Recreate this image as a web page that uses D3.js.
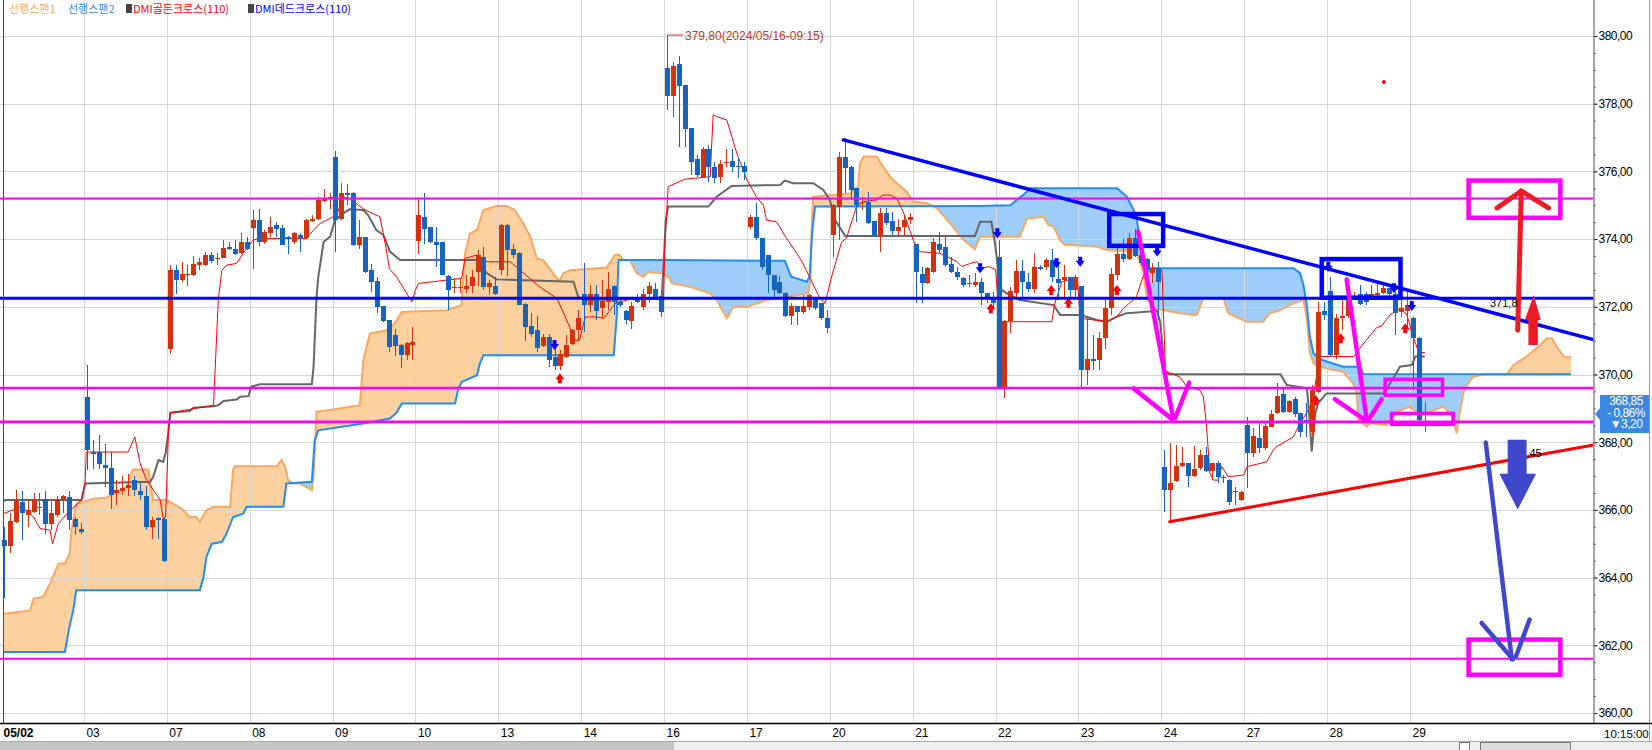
<!DOCTYPE html>
<html>
<head>
<meta charset="utf-8">
<script src="https://cdn.jsdelivr.net/npm/d3@7"></script>
<style>
  body { margin: 0; background: #fff; overflow: hidden; }
  svg { display: block; font-family: "Liberation Sans", Arial, sans-serif; }
</style>
</head>
<body>
<div id="chart"></div>
<script>
// 30 min bars, 14 per session
const dayLabels = ['05/02', '03', '07', '08', '09', '10', '13', '14', '16', '17', '20', '21', '22', '23', '24', '27', '28', '29'];

// [open, high, low, close]
const ohlc = [
  // 05/02
  [365.1,365.5,363.4,364.93],[364.93,365.9,364.73,365.68],[365.65,366.6,365.6,366.27],[366.24,366.55,365.1,365.9],
  [365.86,366.3,365.5,365.99],[365.94,366.5,365.9,366.31],[366.1,366.5,365.85,366.1],[366.31,366.55,365.3,365.57],
  [365.57,366.3,365.4,365.92],[365.86,366.4,365.8,366.31],[366.3,366.45,365.9,366.4],[366.38,366.55,365.4,365.7],
  [365.74,365.8,365.25,365.5],[365.45,365.6,365.3,365.35],
  // 03
  [369.34,370.28,367.17,367.76],[367.7,368.06,367.2,367.66],[367.71,368.2,367.2,367.37],[367.32,367.96,366.68,367.25],
  [367.25,367.7,366.04,366.45],[366.5,366.88,366.13,366.6],[366.56,367.0,366.45,366.66],[366.66,367.05,366.4,366.75],
  [366.88,367.0,366.4,366.6],[366.56,366.8,366.3,366.45],[366.4,366.7,365.4,365.5],[365.5,365.8,365.15,365.7],
  [365.77,365.8,365.15,365.7],[365.74,365.8,364.45,364.49],
  // 07
  [370.75,373.23,370.6,373.1],[373.1,373.23,372.37,372.8],[372.8,373.33,372.74,372.97],[372.95,373.23,372.6,372.97],
  [372.94,373.5,372.9,373.25],[373.23,373.43,373.1,373.32],[373.23,373.63,373.2,373.52],[373.53,373.63,373.3,373.35],
  [373.42,373.6,373.23,373.45],[373.45,373.97,373.43,373.75],[373.77,373.92,373.67,373.7],[373.72,373.97,373.53,373.57],
  [373.6,374.17,373.57,373.9],[373.9,374.05,373.67,373.7],
  // 08
  [374.33,374.86,373.13,374.56],[374.56,374.9,373.8,373.9],[373.9,374.27,373.87,374.2],[374.19,374.64,374.07,374.35],
  [374.41,374.5,374.07,374.31],[374.33,374.41,373.82,373.84],[374.05,374.1,373.55,374.0],[373.9,374.22,373.87,374.17],
  [374.12,374.17,373.62,374.02],[374.02,374.6,374.0,374.56],[374.54,374.7,374.5,374.6],[374.58,375.25,374.56,375.15],
  [375.13,375.47,375.1,375.17],[375.17,375.37,374.9,375.25],
  // 09
  [376.43,376.61,373.63,374.56],[374.58,375.65,374.56,375.37],[375.37,375.63,375.0,375.3],[375.37,375.4,373.8,373.82],
  [373.82,374.56,373.7,374.05],[374.05,374.07,373.0,373.03],[373.1,373.25,372.44,372.74],[372.76,372.88,371.82,372.0],
  [372.02,372.03,371.55,371.59],[371.6,371.62,370.67,370.82],[371.16,371.33,370.54,370.84],[370.87,370.9,370.18,370.57],
  [370.57,370.95,370.42,370.92],[370.87,371.41,370.42,370.97],
  // 10
  [373.95,375.2,373.56,374.71],[374.64,375.37,373.87,374.3],[374.35,374.36,373.88,373.9],[373.9,374.35,373.18,373.82],
  [373.91,373.92,372.93,372.94],[372.92,372.93,371.9,372.5],[372.55,372.84,372.4,372.58],[372.55,372.84,372.4,372.58],
  [372.54,372.94,372.4,372.62],[372.6,373.08,372.4,372.89],[373.03,373.67,372.6,373.53],[373.48,373.77,372.5,372.59],
  [372.59,372.79,372.35,372.69],[372.61,372.89,372.35,372.39],
  // 13
  [373.08,374.45,372.94,374.41],[374.41,374.45,372.9,373.67],[373.72,373.87,373.43,373.53],[373.58,373.63,372.04,372.05],
  [372.08,372.1,371.0,371.41],[371.43,371.82,371.11,371.21],[371.31,371.72,370.67,370.77],[370.84,371.2,370.82,371.11],
  [371.11,371.2,370.23,370.42],[370.52,370.82,370.13,370.25],[370.25,370.72,370.13,370.6],[370.52,371.16,370.5,370.87],
  [370.9,371.33,370.87,371.31],[371.31,371.9,371.0,371.66],
  // 14
  [372.39,373.3,371.26,372.05],[372.05,372.64,371.85,372.37],[372.37,372.64,371.6,371.88],[371.95,372.79,371.66,372.18],
  [372.15,373.03,371.9,372.54],[372.61,372.64,371.75,372.15],[372.15,372.3,372.0,372.05],[371.87,371.9,371.5,371.62],
  [371.59,372.15,371.33,372.02],[372.3,372.39,372.1,372.15],[372.0,372.54,371.9,372.39],[372.37,372.74,372.1,372.61],
  [372.53,372.69,372.2,372.3],[372.32,372.4,371.7,371.85],
  // 16
  [379.04,379.8,377.81,378.23],[378.23,379.24,377.62,379.11],[379.17,379.41,376.73,378.52],[378.55,378.56,376.73,377.24],
  [377.27,377.28,375.9,376.29],[376.36,376.48,375.84,375.9],[375.84,376.73,375.84,376.65],[376.65,376.78,375.7,376.14],
  [376.14,376.29,375.65,375.8],[375.84,376.34,375.67,376.22],[376.24,376.65,376.14,376.27],[376.31,376.65,375.99,376.14],
  [376.17,376.43,375.8,376.13],[376.16,376.29,375.75,375.99],
  // 17
  [374.35,374.7,374.3,374.64],[374.64,375.06,373.97,374.02],[374.02,374.03,373.09,373.19],[373.53,373.54,372.4,372.94],
  [372.94,372.95,372.28,372.5],[372.74,372.9,372.38,372.4],[372.42,372.44,371.71,371.73],[371.73,372.1,371.46,372.02],
  [372.02,372.03,371.46,371.86],[371.86,372.35,371.8,372.02],[372.0,372.38,371.9,372.35],[372.25,372.3,371.9,371.96],
  [372.1,372.11,371.6,371.66],[371.66,371.9,371.24,371.36],
  // 20
  [374.12,375.03,373.48,375.01],[374.96,376.58,373.97,376.43],[376.43,376.98,375.35,376.09],[376.14,376.15,375.15,375.45],
  [375.5,375.51,374.51,375.01],[375.06,375.25,374.86,375.1],[375.1,375.4,374.45,374.47],[374.52,374.53,374.07,374.12],
  [374.12,374.91,373.63,374.78],[374.78,374.91,374.42,374.47],[374.52,374.81,374.12,374.25],[374.25,374.58,374.12,374.35],
  [374.35,374.71,374.12,374.56],[374.56,374.76,374.46,374.66],
  // 21
  [373.86,373.87,372.1,373.04],[372.97,373.19,372.1,372.69],[372.69,373.19,372.68,373.14],[373.04,374.02,372.99,373.92],
  [373.86,374.22,373.58,373.68],[373.76,374.07,373.18,373.23],[373.26,373.46,372.99,373.04],[373.04,373.19,372.79,372.87],
  [372.84,372.89,372.59,372.64],[372.67,372.94,372.59,372.7],[372.64,372.99,372.59,372.74],[372.74,372.84,372.05,372.4],
  [372.4,372.41,372.1,372.25],[372.3,372.45,371.95,372.1],
  // 22
  [373.48,373.97,369.6,369.64],[369.64,371.61,369.3,371.58],[371.58,372.59,371.24,372.47],[372.4,373.38,372.2,373.06],
  [373.06,373.38,372.25,372.74],[372.74,372.99,372.45,372.52],[372.52,373.58,372.4,373.17],[373.17,373.24,373.08,373.11],
  [373.17,373.43,373.08,373.38],[373.38,373.7,372.74,372.87],[372.81,373.33,372.2,372.71],[372.79,373.23,372.2,372.87],
  [372.87,372.88,372.25,372.5],[372.5,372.94,372.3,372.87],
  // 23
  [372.61,372.62,369.64,370.13],[370.13,371.66,369.69,370.45],[370.45,371.17,370.13,370.41],[370.43,371.27,370.13,371.09],
  [371.07,372.2,370.74,371.95],[371.95,373.14,371.76,372.97],[372.94,373.78,372.79,373.56],[373.56,373.99,373.33,373.4],
  [373.4,374.19,373.38,374.02],[374.02,374.29,373.48,373.5],[373.53,373.82,373.24,373.3],[373.4,373.43,372.84,373.09],
  [373.01,373.3,372.69,373.11],[373.14,373.33,371.61,372.74],
  // 24
  [367.28,367.77,365.95,366.59],[366.59,367.97,365.6,366.8],[366.86,367.92,366.83,367.3],[367.3,367.87,367.28,367.38],
  [367.38,367.39,366.69,367.0],[367.0,367.89,366.98,367.2],[367.23,367.77,367.18,367.62],[367.62,367.87,367.13,367.16],
  [367.16,367.39,366.88,367.38],[367.38,367.43,366.78,366.96],[366.98,367.03,366.78,366.93],[366.88,366.9,366.14,366.24],
  [366.52,366.69,366.14,366.55],[366.29,366.55,366.27,366.54],
  // 27
  [368.51,368.75,366.64,367.67],[367.67,368.41,367.57,368.18],[368.11,368.56,367.67,367.82],[367.82,368.61,367.77,368.48],
  [368.46,368.95,368.44,368.83],[368.85,369.76,368.83,369.37],[369.42,369.59,368.87,368.9],[368.9,369.25,368.85,369.23],
  [369.27,369.35,368.75,368.83],[368.85,368.86,368.14,368.31],[368.65,369.15,368.14,368.6],[368.31,369.7,368.2,369.54],
  [369.49,372.15,369.45,371.85],[371.88,372.15,371.6,371.76],
  // 28
  [372.48,372.89,370.53,370.58],[370.58,371.8,370.45,371.66],[371.66,372.2,371.31,371.73],[371.73,372.21,371.66,372.2],
  [372.25,372.45,372.2,372.32],[372.38,372.64,372.05,372.08],[372.38,372.45,372.05,372.15],[372.32,372.64,372.25,372.38],
  [372.35,372.69,372.3,372.4],[372.4,372.71,372.38,372.55],[372.55,372.56,372.2,372.38],[372.38,372.45,371.17,371.81],
  [371.86,372.35,371.71,371.95],[371.88,372.48,371.36,372.05],
  // 29
  [371.66,371.71,369.54,371.07],[371.07,371.1,368.6,368.66],[368.8,369.2,368.3,368.85]
];

// indicator lines, read as [bar, value] vertices
const tenkan = [[0,365.9],[3,366.09],[5,365.79],[6.1,365.45],[7.8,365.4],[8.2,365.0],[9.2,365.6],[11.2,365.99],[13.1,366.29],
  [13.7,366.78],[13.9,367.71],[21,367.71],[22.1,368.16],[23,367.37],[24.1,366.88],[26.4,366.29],[26.9,365.74],[27.3,365.79],
  [27.8,368.35],[28.1,368.87],[32,368.99],[35.4,369.09],[36.2,372.2],[36.8,373.08],[37.6,373.23],[39.3,373.28],[40.4,373.58],
  [42.1,373.97],[43.2,374.02],[51.1,374.02],[52.3,374.27],[53.4,374.46],[55.4,374.64],[56.2,374.71],[57.3,375.25],[58.4,375.2],
  [60.7,374.89],[63.5,374.66],[64.4,373.87],[65.1,373.13],[66.3,372.89],[68.9,372.15],[69.5,372.49],[70,372.69],[77.3,372.84],
  [77.9,373.43],[79.9,373.53],[81.6,373.33],[85.5,373.33],[87.2,373.08],[90.5,372.59],[93.4,372.25],[95.3,371.51],[96.5,371.01],
  [97.2,371.01],[98.2,371.7],[100.1,371.7],[101.3,371.66],[103.4,372.12],[105.7,372.22],[111.4,372.22],[111.7,374.07],
  [112.2,375.55],[115,375.77],[119.3,375.84],[119.5,376.63],[119.8,377.67],[120.4,377.62],[122.1,377.52],[123.8,376.53],
  [125.5,375.75],[127.1,375.25],[128.3,375.0],[128.8,374.56],[130.5,374.51],[132.2,374.02],[134.5,373.43],[136.2,372.84],
  [137.8,372.25],[138.7,372.1],[139.8,372.89],[141.5,373.92],[142.3,374.02],[144,374.96],[145.2,375.11],[147.4,375.16],
  [148.5,375.3],[149.7,375.3],[150.8,375.2],[151.9,374.81],[153.6,373.97],[154.7,373.63],[158.1,373.58],[159.3,373.48],
  [161,373.33],[161.8,373.19],[163.2,373.28],[164.3,373.33],[165.4,373.14],[166.3,373.19],[167.5,373.1],[168.2,371.56],
  [177,371.56],[177.5,372.1],[178.7,372.74],[181.3,372.87],[181.8,371.66],[186.5,371.56],[188,371.71],[189.1,371.95],
  [191.3,372.3],[192.5,372.94],[194.2,373.14],[195.6,373.09],[196.2,370.1],[198.6,369.93],[199.8,369.64],[202,369.54],
  [202.6,369.34],[203.1,368.56],[203.7,367.08],[204.3,366.88],[205.1,366.88],[205.7,367.28],[206.8,366.98],[209.4,367.03],
  [210,367.28],[213.3,367.42],[214.4,367.77],[215,367.87],[217.8,368.16],[218.9,368.56],[220,368.85],[221,369.2],
  [222.3,370.53],[228,370.53],[229.3,370.84],[231.9,371.39],[232.7,371.43],[234.1,371.76],[235.8,371.95],[237,371.76],
  [238,371.13],[239,370.65],[240,370.65]];

const kijun = [[0,366.25],[0.2,366.29],[13.1,366.29],[13.7,366.78],[24.7,366.83],[25.2,366.98],[26.1,367.47],[26.9,367.42],
  [27.3,367.67],[27.8,368.35],[28.1,368.87],[31.4,368.92],[32,369.02],[35.4,369.06],[36.2,369.09],[37.1,369.22],[39.3,369.26],
  [39.9,369.34],[41.3,369.36],[41.8,369.64],[43.2,369.71],[52,369.71],[52.3,370.23],[52.8,372.3],[53.1,372.89],[54,373.92],
  [55.1,374.07],[55.9,374.56],[57.3,374.76],[58.4,374.88],[60.7,374.86],[61.5,374.71],[62.9,374.27],[64.1,374.12],
  [65.2,373.63],[66.9,373.38],[79.9,373.38],[81.6,372.99],[83.2,372.81],[96.2,372.74],[97,372.3],[97.9,372.2],[111.1,372.25],
  [111.4,373.19],[111.8,374.56],[112.2,374.96],[119,374.96],[120.4,375.25],[122.9,375.57],[131.1,375.6],[131.9,375.73],
  [133.3,375.65],[136.7,375.65],[138.4,375.45],[139.5,375.16],[140.4,374.56],[142.1,374.09],[164,374.09],[164.9,374.51],
  [166.8,374.51],[167.4,373.87],[167.9,373.18],[168.5,372.5],[169.4,372.4],[171.6,372.2],[177.3,372.05],[178.4,371.76],
  [181.8,371.76],[184.6,371.61],[186.3,371.56],[188,371.71],[189.6,371.81],[193.6,371.86],[194.7,371.9],[195.3,371.56],
  [195.7,370.82],[196.1,370.13],[196.7,370.01],[215.6,370.01],[216.7,369.69],[220.1,369.59],[220.6,368.56],[220.9,367.72],
  [221.5,368.85],[222,369.15],[223.4,369.44],[233,369.44],[234.7,369.89],[235.8,370.23],[237.8,370.28],[238.4,370.53],
  [240,370.53]];

const spanA = [[0,362.93],[4.4,363.03],[5,363.38],[6.6,363.43],[7.8,363.83],[9.2,364.42],[10.3,364.42],[11.1,364.71],
  [11.4,365.4],[12,365.99],[12.3,366.19],[13.4,366.24],[15.1,366.33],[17.3,366.36],[20.7,366.68],[21.6,367.12],[21.8,367.19],
  [24.4,367.19],[24.9,366.58],[25.2,366.29],[27.5,366.29],[30,366.04],[31.4,365.79],[32.5,365.79],[33.1,365.65],[34.2,365.99],
  [35.4,366.09],[38.2,366.09],[38.7,367.17],[39,367.29],[46.1,367.29],[46.9,367.47],[47.5,367.27],[48,366.88],[48.9,366.78],
  [50,366.78],[51.1,366.68],[52,366.58],[52.3,367.02],[52.8,368.9],[55.1,368.95],[60.1,369.09],[60.4,369.73],[60.7,370.42],
  [61.8,371.21],[64.6,371.31],[66,371.51],[67.2,371.85],[74.8,371.9],[77.3,372.05],[77.6,372.89],[77.9,373.58],[78.7,374.17],
  [79.9,374.27],[81,374.86],[83.2,374.98],[84.9,374.98],[86.3,374.86],[87.7,374.47],[88.9,374.07],[90,373.43],[91.1,373.38],
  [93.4,372.84],[93.9,372.79],[94.5,372.99],[95.6,373.08],[101.8,373.16],[103.2,373.53],[104,373.53],[104.6,373.38],
  [105.7,373.38],[106.9,372.99],[108,372.89],[108.8,373.03],[111.4,372.99],[112.5,372.84],[112.8,372.69],[115.9,372.59],
  [119.3,372.4],[120.4,372.2],[122.1,371.66],[123.2,372.0],[125.5,372.0],[128.8,372.2],[132.2,372.3],[135.9,372.4],
  [136.2,372.79],[136.5,374.66],[136.7,375.25],[142.9,375.35],[144.3,375.55],[144.6,376.24],[145.2,376.44],[147.4,376.44],
  [148.5,376.14],[149.7,375.84],[150.8,375.65],[152.5,375.4],[153.6,375.11],[155.9,375.06],[157.6,374.91],[159.8,374.47],
  [162.1,373.97],[164,373.7],[164.9,374.07],[171.6,374.07],[172.8,374.61],[175.6,374.66],[176.4,374.42],[177.3,374.37],
  [178.4,373.97],[179.2,373.83],[184.6,373.78],[186.3,373.68],[191.3,373.63],[192.5,372.99],[193.1,372.2],[194.7,371.95],
  [198.6,371.81],[201.5,371.76],[202,372.0],[202.6,372.25],[206,372.25],[206.8,371.81],[209.9,371.56],[212.7,371.56],
  [213.8,371.81],[215.6,371.9],[217.8,372.1],[219.5,372.2],[220.1,371.61],[220.6,370.63],[221.2,370.33],[222.3,370.23],
  [224.6,370.13],[226.2,370.08],[227.9,369.74],[228.5,369.44],[228.8,368.66],[230.2,368.46],[230.8,368.56],[233.6,368.51],
  [234.1,368.7],[235.3,368.9],[237.5,369.05],[238.6,368.9],[240.9,368.9],[243.1,369.05],[244.3,368.85],[244.8,368.66],
  [245.4,368.26],[245.7,368.66],[246.5,369.44],[247.1,369.69],[248.2,369.94],[250.5,370.01],[253.9,370.01],[255,370.28],
  [257.2,370.53],[259.5,370.87],[260.6,371.07],[261.5,371.07],[262.3,370.82],[263.5,370.53],[264.7,370.51]];

const spanB = [[0,361.8],[10.3,361.8],[11,362.5],[11.7,363.03],[12.2,363.63],[33.1,363.63],[33.7,364.02],[34.2,364.61],
  [35.1,365.0],[36.8,365.05],[37.6,365.3],[38.7,365.79],[40.4,365.89],[41,366.09],[47.2,366.09],[47.7,366.78],[52,366.83],
  [52.5,368.06],[53.1,368.35],[60.7,368.55],[65.2,368.7],[66.3,368.87],[67.2,369.14],[76.2,369.14],[76.7,369.54],
  [77.3,369.78],[79.9,369.98],[80.4,370.33],[81,370.57],[103,370.57],[103.2,371.01],[103.5,371.7],[103.8,373.38],
  [112.5,373.38],[131.9,373.36],[132.5,373.09],[133,372.89],[135.6,372.74],[136.1,372.89],[136.5,374.17],[137,374.96],
  [164.9,374.98],[170,375.0],[172.8,375.4],[173.3,375.5],[188,375.5],[189.7,375.25],[190.8,374.86],[191.3,374.66],
  [191.9,373.87],[192.5,373.18],[193.1,373.14],[217.8,373.14],[218.9,373.0],[219.5,372.65],[220.1,372.0],[220.6,371.1],
  [221.2,370.63],[222.3,370.45],[226.2,370.23],[229.1,370.23],[229.6,370.01],[264.7,370.01]];

// drawn annotations, [bar, value]
const blueLevel = 372.25;
const magentaLevels = [375.2, 369.6, 368.6, 361.6];
const blueTrend = [[141.8, 376.93], [268.5, 371.03]];
const redTrend = [[196.9, 365.65], [268.5, 367.92]];
const blueBoxes = [[[186.7, 374.74], [195.8, 373.8]], [[222.6, 373.41], [235.9, 372.27]]];
const magentaBoxes = [[[233.3, 369.86], [243.0, 369.39]], [[234.4, 368.85], [244.8, 368.53]],
  [[247.4, 375.73], [262.9, 374.63]], [[247.4, 362.17], [262.9, 361.13]]];
const magentaArrows = [
  [[[191.6, 374.22], [197.5, 368.7]], [[190.8, 369.59], [197.2, 368.7]], [[200.2, 369.76], [197.8, 368.7]]],
  [[[226.8, 372.81], [230.2, 368.66]], [[224.8, 369.27], [229.9, 368.66]], [[232.7, 369.27], [230.5, 368.66]]]
];
const redArrow = [[[255.7, 371.31], [256.3, 375.42]], [[252.2, 374.92], [256.3, 375.42]], [[256.3, 375.42], [260.9, 374.92]]];
const indigoArrow = [[[250.3, 367.99], [254.7, 361.59]], [[249.6, 362.66], [254.9, 361.59]], [[257.7, 362.76], [255.4, 361.67]]];
const redBlockArrow = [[257.5, 370.87], [257.5, 371.61], [256.9, 371.61], [258.4, 372.35], [259.6, 371.61], [259.1, 371.61], [259.1, 370.87]];
const blueBlockArrow = [[254.0, 368.07], [257.2, 368.07], [257.2, 367.07], [258.8, 367.07], [255.7, 366.01], [252.6, 367.07], [254.0, 367.07]];
const sellSignals = [[93, 370.87], [164.9, 373.14], [167.8, 374.17], [177.8, 373.29], [181.8, 373.33], [194.8, 373.63],
  [223.7, 373.18], [234.8, 372.55], [237.8, 372.02]];
const buySignals = [[93.9, 369.89], [166.7, 371.96], [176.9, 372.5], [179.8, 372.12], [188, 372.5], [221.6, 369.24],
  [225.8, 371.07], [236.7, 371.37]];
const redDot = [233.1, 378.64];
const highBar = 112;
const lastPrice = 368.85;

const width = 1652;
const height = 750;
const plot = { right: 1593.5, bottom: 723 };

const svg = d3.select('#chart')
  .append('svg')
    .attr('width', width)
    .attr('height', height);

const x = d3.scaleLinear().domain([-0.5, 268.5]).range([1, plot.right]);
const y = d3.scaleLinear().domain([360, 380]).range([713, 36]);
const P = d => [x(d[0]), y(d[1])];
const line = d3.line();

const defs = svg.append('defs');
defs.append('clipPath').attr('id', 'plotClip')
  .append('rect').attr('x', 0).attr('y', 0).attr('width', plot.right).attr('height', plot.bottom);

// cloud
const ptsA = spanA.map(P), ptsB = spanB.map(P);
const between = line(ptsA.concat(ptsB.slice().reverse())) + 'Z';
const above = pts => line(pts.concat([[pts[pts.length - 1][0], 0], [pts[0][0], 0]])) + 'Z';
defs.append('clipPath').attr('id', 'aboveB').append('path').attr('d', above(ptsB));
defs.append('clipPath').attr('id', 'aboveA').append('path').attr('d', above(ptsA));

const plotG = svg.append('g').attr('clip-path', 'url(#plotClip)');

plotG.append('path').attr('d', between).attr('fill', '#fdd09f')
  .attr('fill-rule', 'evenodd').attr('clip-path', 'url(#aboveB)');
plotG.append('path').attr('d', between).attr('fill', '#9fcdfa')
  .attr('fill-rule', 'evenodd').attr('clip-path', 'url(#aboveA)');

// grid
const grid = plotG.append('g').attr('stroke', '#d6d6d6').attr('stroke-width', 1).attr('shape-rendering', 'crispEdges');
grid.selectAll('line.h')
  .data(d3.range(360, 381, 2))
  .enter().append('line')
    .attr('x1', 0).attr('x2', plot.right)
    .attr('y1', d => Math.round(y(d)) + 0.5).attr('y2', d => Math.round(y(d)) + 0.5);
grid.selectAll('line.v')
  .data(dayLabels.slice(1))
  .enter().append('line')
    .attr('x1', (d, i) => Math.round(x(14 * (i + 1) - 0.5)) + 0.5)
    .attr('x2', (d, i) => Math.round(x(14 * (i + 1) - 0.5)) + 0.5)
    .attr('y1', 0).attr('y2', plot.bottom);

// spans + base/conversion lines
const vline = d3.line().x(d => x(d[0])).y(d => y(d[1]));
plotG.append('path').attr('d', vline(spanA)).attr('fill', 'none').attr('stroke', '#f9a862').attr('stroke-width', 2);
plotG.append('path').attr('d', vline(spanB)).attr('fill', 'none').attr('stroke', '#1e8ef5').attr('stroke-width', 2);
plotG.append('path').attr('d', vline(kijun)).attr('fill', 'none').attr('stroke', '#666').attr('stroke-width', 2);
plotG.append('path').attr('d', vline(tenkan)).attr('fill', 'none').attr('stroke', '#ff0000').attr('stroke-width', 1);

// candles
const up = '#d2320c', down = '#1565c0';
const candle = plotG.append('g').selectAll('g')
  .data(ohlc)
  .enter().append('g')
    .attr('fill', d => d[3] >= d[0] ? up : down)
    .attr('stroke', d => d[3] >= d[0] ? up : down)
    .attr('shape-rendering', 'crispEdges');
candle.append('line')
  .attr('x1', (d, i) => Math.round(x(i)) + 0.5).attr('x2', (d, i) => Math.round(x(i)) + 0.5)
  .attr('y1', d => y(d[1])).attr('y2', d => y(d[2]));
candle.append('rect')
  .attr('stroke', 'none')
  .attr('x', (d, i) => Math.round(x(i)) - 2)
  .attr('width', 5)
  .attr('y', d => y(Math.max(d[0], d[3])))
  .attr('height', d => Math.max(1, Math.abs(y(d[0]) - y(d[3]))));

// buy / sell signal marks
plotG.append('g').selectAll('path')
  .data(sellSignals)
  .enter().append('path')
    .attr('fill', '#0000ff')
    .attr('d', d => { const [cx, cy] = P(d);
      return `M${cx - 2},${cy - 5}H${cx + 2}V${cy - 1}H${cx + 4.5}L${cx},${cy + 5}L${cx - 4.5},${cy - 1}H${cx - 2}Z`; });
plotG.append('g').selectAll('path')
  .data(buySignals)
  .enter().append('path')
    .attr('fill', '#ff0000')
    .attr('d', d => { const [cx, cy] = P(d);
      return `M${cx - 2},${cy + 5}H${cx + 2}V${cy + 1}H${cx + 4.5}L${cx},${cy - 5}L${cx - 4.5},${cy + 1}H${cx - 2}Z`; });
plotG.append('circle').attr('cx', P(redDot)[0]).attr('cy', P(redDot)[1]).attr('r', 2).attr('fill', '#ff0000');

// high label
const hx = Math.round(x(highBar)) + 0.5, hy = y(ohlc[highBar][1]);
plotG.append('path').attr('d', `M${hx},${hy}V35H683`).attr('fill', 'none').attr('stroke', '#c0391b');
svg.append('text').attr('x', 685).attr('y', 40).attr('font-size', 12).attr('fill', '#c0391b')
  .text(`${d3.format('.2f')(ohlc[highBar][1]).replace('.', ',')}(2024/05/16-09:15)`);

// drawn lines
const draw = plotG.append('g').attr('fill', 'none').attr('stroke-linecap', 'round');
draw.append('line').attr('x1', 0).attr('x2', plot.right).attr('y1', y(blueLevel)).attr('y2', y(blueLevel))
  .attr('stroke', '#0000ff').attr('stroke-width', 3);
draw.selectAll('line.mag')
  .data(magentaLevels)
  .enter().append('line')
    .attr('x1', 0).attr('x2', plot.right)
    .attr('y1', d => y(d)).attr('y2', d => y(d))
    .attr('stroke', '#ff00ff')
    .attr('stroke-width', (d, i) => (i === 1 || i === 2) ? 2.6 : 2);
draw.append('path').attr('d', line(blueTrend.map(P))).attr('stroke', '#0000ff').attr('stroke-width', 3.5);
draw.append('path').attr('d', line(redTrend.map(P))).attr('stroke', '#ff0000').attr('stroke-width', 3);

const box = b => { const [x0, y0] = P(b[0]), [x1, y1] = P(b[1]); return { x: x0, y: y0, w: x1 - x0, h: y1 - y0 }; };
draw.selectAll('rect.bb')
  .data(blueBoxes.map(box))
  .enter().append('rect')
    .attr('x', d => d.x).attr('y', d => d.y).attr('width', d => d.w).attr('height', d => d.h)
    .attr('stroke', '#0000ff').attr('stroke-width', 4.5);
draw.selectAll('rect.mb')
  .data(magentaBoxes.map(box))
  .enter().append('rect')
    .attr('x', d => d.x).attr('y', d => d.y).attr('width', d => d.w).attr('height', d => d.h)
    .attr('stroke', '#ff00ff').attr('stroke-width', (d, i) => i < 2 ? 3.5 : 4.5);

magentaArrows.forEach(arrow => arrow.forEach(seg =>
  draw.append('path').attr('d', line(seg.map(P))).attr('stroke', '#ff00ff').attr('stroke-width', 4.5)));

// labels partly hidden under the arrows
svg.append('text').attr('x', 1490).attr('y', 307).attr('font-size', 11).text('371,8');
svg.append('text').attr('x', 1508).attr('y', 457).attr('font-size', 11).text('367,45');

redArrow.forEach(seg =>
  draw.append('path').attr('d', line(seg.map(P))).attr('stroke', '#ed1c24').attr('stroke-width', 5));
indigoArrow.forEach(seg =>
  draw.append('path').attr('d', line(seg.map(P))).attr('stroke', '#3f48cc').attr('stroke-width', 4.5));
svg.append('path').attr('d', line(redBlockArrow.map(P)) + 'Z').attr('fill', '#ed1c24');
svg.append('path').attr('d', line(blueBlockArrow.map(P)) + 'Z').attr('fill', '#3f48cc');

// left marker line
svg.append('line').attr('x1', 3.5).attr('x2', 3.5).attr('y1', 0).attr('y2', plot.bottom)
  .attr('stroke', '#ff0000').attr('stroke-width', 1);

// price axis
const fmt = d => d3.format('.2f')(d).replace('.', ',');
const yAxisMinor = svg.append('g').attr('transform', `translate(${plot.right},0)`)
  .call(d3.axisRight(y).tickValues(d3.range(360, 380.01, 0.5)).tickSize(2).tickFormat(''));
const yAxis = svg.append('g').attr('transform', `translate(${plot.right},0)`)
  .call(d3.axisRight(y).tickValues(d3.range(360, 381, 2)).tickSize(4).tickPadding(1).tickFormat(fmt));
yAxisMinor.select('.domain').remove();
yAxis.select('.domain').remove();
yAxis.selectAll('text').attr('font-size', 12).attr('font-family', 'Liberation Sans').attr('letter-spacing', '-0.5px');
svg.append('line').attr('x1', plot.right + 0.5).attr('x2', plot.right + 0.5).attr('y1', 0).attr('y2', plot.bottom)
  .attr('stroke', '#888').attr('stroke-width', 1.5);
svg.append('line').attr('x1', 1649.5).attr('x2', 1649.5).attr('y1', 0).attr('y2', 741).attr('stroke', '#999');

// last price tag
svg.append('path').attr('d', 'M1595,414L1600,408V395H1649V433H1600V420Z').attr('fill', '#3a87e4');
const tag = svg.append('g').attr('fill', '#fff').attr('font-size', 12).attr('text-anchor', 'middle').attr('letter-spacing', '-0.5px');
tag.append('text').attr('x', 1626).attr('y', 405).text(fmt(lastPrice));
tag.append('text').attr('x', 1626).attr('y', 416.5).text('- 0,86%');
tag.append('text').attr('x', 1626).attr('y', 428).text('▼3,20');

// time axis
svg.append('line').attr('x1', 0).attr('x2', width).attr('y1', plot.bottom + 0.5).attr('y2', plot.bottom + 0.5)
  .attr('stroke', '#000').attr('stroke-width', 1.5);
const xAxis = svg.append('g').attr('transform', `translate(0,${plot.bottom})`)
  .call(d3.axisBottom(x)
    .tickValues(dayLabels.map((d, i) => 14 * i - 0.5))
    .tickSize(0).tickPadding(5)
    .tickFormat((d, i) => dayLabels[i]));
xAxis.select('.domain').remove();
xAxis.selectAll('text').attr('text-anchor', 'start').attr('dx', 2).attr('font-size', 12)
  .attr('font-family', 'Liberation Sans').attr('font-weight', (d, i) => i === 0 ? 'bold' : 'normal');
svg.append('text').attr('x', 1604).attr('y', 738).attr('font-size', 11.5).text('10:15:00');

// scroll bar
svg.append('rect').attr('x', 0).attr('y', 741).attr('width', width).attr('height', 9).attr('fill', '#efefef');
svg.append('rect').attr('x', 0).attr('y', 742).attr('width', 674).attr('height', 8).attr('fill', '#c6c6c6');
svg.append('line').attr('x1', 0).attr('x2', width).attr('y1', 741.5).attr('y2', 741.5).attr('stroke', '#a8a8a8');
svg.append('rect').attr('x', 1459.5).attr('y', 742.5).attr('width', 10).attr('height', 8).attr('fill', '#fff').attr('stroke', '#777');
svg.append('rect').attr('x', 1480.5).attr('y', 742.5).attr('width', 90).attr('height', 8).attr('fill', '#ddd').attr('stroke', '#777');

// legend at the top edge
const legend = svg.append('g').attr('font-family', '"Noto Sans CJK KR", sans-serif').attr('font-size', 11);
legend.append('text').attr('x', 9).attr('y', 13).attr('fill', '#f7aa66').text('선행스팬1');
legend.append('text').attr('x', 68).attr('y', 13).attr('fill', '#2b8ff0').text('선행스팬2');
legend.append('rect').attr('x', 126).attr('y', 4).attr('width', 6).attr('height', 9).attr('fill', '#444');
legend.append('text').attr('x', 133).attr('y', 13).attr('fill', '#ff0000').text('DMI골든크로스(110)');
legend.append('rect').attr('x', 248).attr('y', 4).attr('width', 6).attr('height', 9).attr('fill', '#444');
legend.append('text').attr('x', 255).attr('y', 13).attr('fill', '#0000ff').text('DMI데드크로스(110)');
</script>
</body>
</html>
